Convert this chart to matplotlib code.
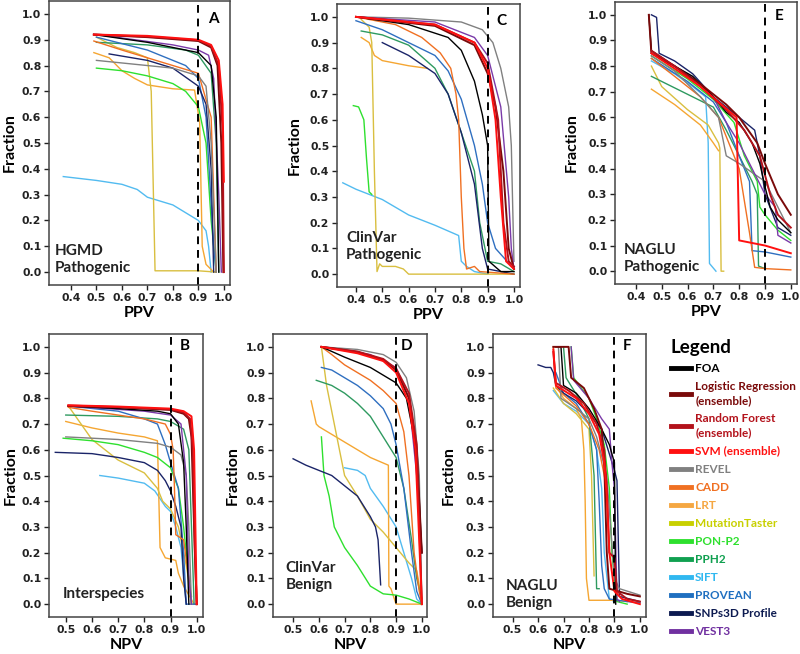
import matplotlib

matplotlib.use("Agg")

import matplotlib.pyplot as plt

W, H = 800, 654

methods = ["FOA", "Logistic Regression\n(ensemble)", "Random Forest\n(ensemble)",
           "SVM (ensemble)", "REVEL", "CADD", "LRT", "MutationTaster", "PON-P2",
           "PPH2", "SIFT", "PROVEAN", "SNPs3D Profile", "VEST3"]
keys = ["FOA", "LR", "RF", "SVM", "REVEL", "CADD", "LRT", "MT", "PON", "PPH2",
        "SIFT", "PROVEAN", "SNPS3D", "VEST3"]
# line colours in the panels
colors = ["#000000", "#7a0a0a", "#b3121b", "#ff1010", "#808080", "#f07022",
          "#f5a632", "#d9bf40", "#2ee02e", "#2f9a60", "#52bbf0", "#2f6fc0",
          "#1a2468", "#7a3aa8"]
# legend text / swatch colours
legend_colors = ["#000000", "#7a0a0a", "#b3121b", "#ff1010", "#808080", "#f07022",
                 "#f5a742", "#c8d000", "#2ee02e", "#10a050", "#30b8f0", "#1f6fc0",
                 "#0c1a50", "#7030a0"]

# (x, y) per method
hgmd_path = {
    "FOA": ([0.49, 0.7, 0.85, 0.9, 0.95, 0.97, 0.98], [0.92, 0.89, 0.86, 0.85, 0.8, 0.6, 0.0]),
    "LR": ([0.49, 0.7, 0.9, 0.95, 0.975, 0.99, 0.998], [0.92, 0.91, 0.895, 0.87, 0.8, 0.5, 0.0]),
    "RF": ([0.49, 0.7, 0.9, 0.95, 0.98, 0.995, 1.0], [0.92, 0.912, 0.898, 0.875, 0.8, 0.55, 0.0]),
    "SVM": ([0.49, 0.7, 0.9, 0.95, 0.98, 0.995, 1.0], [0.92, 0.915, 0.9, 0.88, 0.82, 0.65, 0.35]),
    "REVEL": ([0.5, 0.6, 0.8, 0.9, 0.93, 0.95, 0.97], [0.82, 0.81, 0.79, 0.76, 0.72, 0.5, 0.0]),
    "CADD": ([0.49, 0.6, 0.7, 0.8, 0.9, 0.95, 0.97], [0.895, 0.86, 0.83, 0.8, 0.77, 0.6, 0.0]),
    "LRT": ([0.49, 0.55, 0.6, 0.65, 0.7, 0.8, 0.885, 0.905, 0.915, 0.93, 0.96],
            [0.85, 0.83, 0.78, 0.75, 0.725, 0.71, 0.705, 0.58, 0.1, 0.03, 0.0]),
    "MT": ([0.5, 0.58, 0.65, 0.7, 0.715, 0.73, 0.8, 0.9, 0.97],
           [0.91, 0.87, 0.85, 0.83, 0.7, 0.005, 0.005, 0.005, 0.0]),
    "PON": ([0.5, 0.6, 0.7, 0.8, 0.85, 0.9, 0.93, 0.95, 0.97],
            [0.79, 0.78, 0.76, 0.73, 0.7, 0.64, 0.5, 0.2, 0.0]),
    "PPH2": ([0.5, 0.7, 0.85, 0.9, 0.95, 0.97, 0.98], [0.89, 0.88, 0.86, 0.84, 0.77, 0.5, 0.0]),
    "SIFT": ([0.37, 0.5, 0.6, 0.66, 0.7, 0.8, 0.9, 0.93, 0.94, 0.95],
             [0.37, 0.355, 0.34, 0.32, 0.29, 0.26, 0.2, 0.16, 0.1, 0.0]),
    "PROVEAN": ([0.5, 0.7, 0.85, 0.9, 0.93, 0.96, 0.97], [0.91, 0.86, 0.8, 0.75, 0.6, 0.1, 0.0]),
    "SNPS3D": ([0.55, 0.7, 0.8, 0.9, 0.93, 0.95, 0.96], [0.845, 0.82, 0.79, 0.72, 0.65, 0.4, 0.0]),
    "VEST3": ([0.5, 0.8, 0.9, 0.94, 0.96, 0.98, 0.99], [0.92, 0.88, 0.86, 0.84, 0.75, 0.3, 0.0]),
}

clinvar_path = {
    "FOA": ([0.4, 0.6, 0.75, 0.8, 0.85, 0.88, 0.9, 0.905, 0.95, 1.0],
            [1.0, 0.97, 0.92, 0.87, 0.75, 0.62, 0.5, 0.05, 0.01, 0.01]),
    "LR": ([0.4, 0.7, 0.85, 0.9, 0.93, 0.96, 0.98, 1.0], [1.0, 0.965, 0.89, 0.78, 0.65, 0.4, 0.1, 0.02]),
    "RF": ([0.4, 0.7, 0.85, 0.9, 0.94, 0.96, 0.98, 1.0], [1.0, 0.97, 0.9, 0.82, 0.6, 0.2, 0.05, 0.03]),
    "SVM": ([0.4, 0.7, 0.85, 0.9, 0.93, 0.95, 0.97, 1.0], [1.0, 0.97, 0.9, 0.8, 0.6, 0.3, 0.05, 0.02]),
    "REVEL": ([0.4, 0.6, 0.8, 0.88, 0.92, 0.95, 0.98, 0.99, 1.0],
              [1.0, 0.995, 0.98, 0.95, 0.9, 0.8, 0.65, 0.5, 0.05]),
    "CADD": ([0.4, 0.55, 0.65, 0.72, 0.76, 0.78, 0.79, 0.8, 0.81, 0.82, 0.85, 0.87, 1.0],
             [1.0, 0.97, 0.92, 0.86, 0.8, 0.7, 0.6, 0.3, 0.1, 0.02, 0.03, 0.01, 0.0]),
    "LRT": ([0.42, 0.45, 0.47, 0.5, 0.6, 0.67], [0.92, 0.9, 0.85, 0.83, 0.81, 0.8]),
    "MT": ([0.42, 0.45, 0.46, 0.47, 0.48, 0.49, 0.5, 0.55, 0.58, 0.6, 1.0],
           [0.99, 0.96, 0.9, 0.4, 0.01, 0.04, 0.03, 0.03, 0.02, 0.0, 0.0]),
    "PON": ([0.39, 0.41, 0.43, 0.44, 0.45, 0.46], [0.655, 0.65, 0.6, 0.45, 0.32, 0.31]),
    "PPH2": ([0.42, 0.5, 0.6, 0.7, 0.75, 0.8, 0.85, 0.87, 0.9, 0.95, 1.0],
             [0.945, 0.93, 0.89, 0.8, 0.7, 0.55, 0.4, 0.2, 0.05, 0.04, 0.01]),
    "SIFT": ([0.35, 0.4, 0.5, 0.6, 0.7, 0.79, 0.8, 0.82, 0.85, 0.9],
             [0.355, 0.33, 0.29, 0.23, 0.19, 0.15, 0.05, 0.03, 0.01, 0.0]),
    "PROVEAN": ([0.4, 0.5, 0.6, 0.7, 0.75, 0.8, 0.85, 0.88, 0.9, 0.93, 1.0],
                [0.985, 0.95, 0.9, 0.85, 0.79, 0.68, 0.5, 0.35, 0.2, 0.1, 0.02]),
    "SNPS3D": ([0.5, 0.6, 0.7, 0.75, 0.8, 0.85, 0.88, 0.9, 1.0],
               [0.9, 0.85, 0.78, 0.7, 0.55, 0.35, 0.1, 0.02, 0.0]),
    "VEST3": ([0.4, 0.7, 0.85, 0.9, 0.95, 0.98, 0.99, 1.0], [1.0, 0.98, 0.92, 0.85, 0.65, 0.3, 0.1, 0.02]),
}

naglu_path = {
    "FOA": ([0.45, 0.46, 0.55, 0.62, 0.7, 0.75, 0.8, 0.85, 0.88, 0.9, 0.92, 0.95, 1.0],
            [1.0, 0.86, 0.8, 0.76, 0.68, 0.62, 0.58, 0.5, 0.42, 0.33, 0.25, 0.2, 0.15]),
    "LR": ([0.45, 0.46, 0.55, 0.65, 0.75, 0.8, 0.87, 0.9, 0.95, 1.0],
           [1.0, 0.85, 0.8, 0.73, 0.65, 0.6, 0.5, 0.42, 0.3, 0.22]),
    "RF": ([0.46, 0.55, 0.65, 0.75, 0.82, 0.88, 0.92, 0.95, 1.0],
           [0.86, 0.8, 0.72, 0.63, 0.55, 0.45, 0.3, 0.22, 0.17]),
    "SVM": ([0.46, 0.55, 0.65, 0.72, 0.79, 0.8, 0.9, 1.0], [0.85, 0.79, 0.72, 0.66, 0.6, 0.12, 0.1, 0.07]),
    "REVEL": ([0.46, 0.55, 0.65, 0.72, 0.75, 0.8, 0.9, 0.95, 1.0],
              [0.84, 0.78, 0.68, 0.6, 0.45, 0.42, 0.35, 0.25, 0.15]),
    "CADD": ([0.46, 0.55, 0.65, 0.72, 0.8, 0.84, 0.86, 0.9, 1.0],
             [0.83, 0.76, 0.68, 0.6, 0.4, 0.15, 0.015, 0.01, 0.005]),
    "LRT": ([0.46, 0.55, 0.65, 0.7, 0.72], [0.71, 0.65, 0.57, 0.5, 0.47]),
    "MT": ([0.46, 0.5, 0.6, 0.68, 0.72, 0.725, 0.73, 0.74], [0.8, 0.72, 0.63, 0.57, 0.5, 0.48, 0.0, 0.0]),
    "PON": ([0.46, 0.6, 0.7, 0.78, 0.82, 0.87, 0.88, 0.9, 0.95, 1.0],
            [0.84, 0.75, 0.67, 0.58, 0.45, 0.35, 0.25, 0.22, 0.16, 0.12]),
    "PPH2": ([0.46, 0.6, 0.7, 0.75, 0.8, 0.85, 0.87, 0.875, 0.9],
             [0.76, 0.69, 0.64, 0.55, 0.45, 0.35, 0.3, 0.02, 0.01]),
    "SIFT": ([0.46, 0.55, 0.62, 0.67, 0.68, 0.685, 0.71], [0.82, 0.77, 0.72, 0.68, 0.5, 0.03, 0.0]),
    "PROVEAN": ([0.46, 0.6, 0.7, 0.75, 0.8, 0.84, 0.85, 0.9, 1.0],
                [0.83, 0.74, 0.66, 0.58, 0.45, 0.35, 0.08, 0.075, 0.055]),
    "SNPS3D": ([0.46, 0.48, 0.49, 0.55, 0.62, 0.7, 0.8, 0.86, 0.88, 0.9, 0.95, 1.0],
               [1.0, 0.99, 0.85, 0.82, 0.77, 0.68, 0.6, 0.55, 0.45, 0.3, 0.17, 0.14]),
    "VEST3": ([0.46, 0.6, 0.7, 0.75, 0.8, 0.85, 0.9, 0.94, 0.95, 1.0],
              [0.85, 0.77, 0.68, 0.58, 0.5, 0.4, 0.3, 0.25, 0.14, 0.11]),
}

interspecies = {
    "FOA": ([0.51, 0.7, 0.85, 0.9, 0.93, 0.95, 0.96, 0.97], [0.77, 0.76, 0.75, 0.74, 0.7, 0.55, 0.3, 0.0]),
    "LR": ([0.51, 0.7, 0.9, 0.95, 0.97, 0.98, 0.99, 1.0], [0.77, 0.765, 0.755, 0.74, 0.72, 0.65, 0.3, 0.0]),
    "RF": ([0.51, 0.7, 0.9, 0.95, 0.975, 0.985, 0.993, 1.0], [0.772, 0.766, 0.757, 0.745, 0.72, 0.6, 0.2, 0.0]),
    "SVM": ([0.51, 0.7, 0.9, 0.95, 0.98, 0.99, 0.995, 1.0], [0.773, 0.768, 0.76, 0.75, 0.73, 0.6, 0.3, 0.0]),
    "REVEL": ([0.5, 0.7, 0.85, 0.9, 0.94, 0.96, 0.97, 0.98], [0.65, 0.64, 0.625, 0.61, 0.58, 0.5, 0.3, 0.0]),
    "CADD": ([0.51, 0.6, 0.7, 0.8, 0.88, 0.9, 0.91, 0.915, 0.92, 0.95, 0.97, 0.98],
             [0.765, 0.75, 0.735, 0.72, 0.7, 0.66, 0.6, 0.45, 0.27, 0.25, 0.1, 0.0]),
    "LRT": ([0.5, 0.6, 0.7, 0.8, 0.85, 0.86, 0.88, 0.92, 0.93, 0.95, 0.99],
            [0.71, 0.685, 0.665, 0.65, 0.635, 0.22, 0.18, 0.17, 0.12, 0.07, 0.0]),
    "MT": ([0.51, 0.6, 0.7, 0.8, 0.85, 0.87, 0.9, 0.93, 0.96, 0.98],
           [0.77, 0.64, 0.56, 0.51, 0.45, 0.4, 0.37, 0.3, 0.15, 0.03]),
    "PON": ([0.49, 0.6, 0.7, 0.8, 0.85, 0.9, 0.93, 0.95, 0.97, 0.98],
            [0.645, 0.635, 0.62, 0.59, 0.57, 0.53, 0.45, 0.3, 0.1, 0.0]),
    "PPH2": ([0.5, 0.7, 0.85, 0.9, 0.95, 0.97, 0.98, 0.99], [0.735, 0.73, 0.72, 0.71, 0.68, 0.6, 0.3, 0.0]),
    "SIFT": ([0.63, 0.7, 0.8, 0.84, 0.86, 0.88, 0.9, 0.92, 0.94, 0.96],
             [0.5, 0.49, 0.47, 0.44, 0.41, 0.38, 0.36, 0.3, 0.22, 0.0]),
    "PROVEAN": ([0.51, 0.7, 0.8, 0.85, 0.88, 0.9, 0.93, 0.95, 0.96, 1.0],
                [0.77, 0.75, 0.72, 0.7, 0.62, 0.55, 0.45, 0.2, 0.0, 0.0]),
    "SNPS3D": ([0.46, 0.6, 0.7, 0.8, 0.85, 0.88, 0.9, 0.92, 0.94, 0.95, 0.96],
               [0.59, 0.585, 0.57, 0.55, 0.52, 0.48, 0.44, 0.38, 0.3, 0.1, 0.0]),
    "VEST3": ([0.51, 0.8, 0.9, 0.94, 0.96, 0.97, 0.98], [0.77, 0.75, 0.735, 0.7, 0.5, 0.1, 0.0]),
}

clinvar_benign = {
    "FOA": ([0.61, 0.7, 0.8, 0.85, 0.9, 0.94, 0.97, 0.99, 1.0],
            [1.0, 0.96, 0.92, 0.89, 0.86, 0.8, 0.65, 0.4, 0.2]),
    "LR": ([0.61, 0.75, 0.85, 0.9, 0.95, 0.98, 0.995, 1.0], [1.0, 0.98, 0.95, 0.91, 0.8, 0.6, 0.3, 0.2]),
    "RF": ([0.61, 0.75, 0.85, 0.9, 0.95, 0.98, 1.0], [1.0, 0.982, 0.953, 0.915, 0.82, 0.62, 0.0]),
    "SVM": ([0.61, 0.75, 0.85, 0.9, 0.95, 0.975, 1.0], [1.0, 0.975, 0.945, 0.9, 0.78, 0.6, 0.0]),
    "REVEL": ([0.61, 0.75, 0.85, 0.9, 0.94, 0.97, 0.99, 1.0], [1.0, 0.99, 0.97, 0.94, 0.88, 0.75, 0.5, 0.0]),
    "CADD": ([0.61, 0.65, 0.7, 0.8, 0.85, 0.9, 0.93, 0.95, 0.97, 0.99, 1.0],
             [1.0, 0.97, 0.93, 0.87, 0.83, 0.78, 0.67, 0.5, 0.2, 0.05, 0.0]),
    "LRT": ([0.57, 0.59, 0.6, 0.7, 0.8, 0.87, 0.872, 0.88, 0.9, 1.0],
            [0.79, 0.7, 0.69, 0.63, 0.57, 0.54, 0.07, 0.06, 0.0, 0.0]),
    "MT": ([0.61, 0.63, 0.66, 0.68, 0.7, 0.75, 0.8, 0.85, 0.9, 0.95, 0.98, 1.0],
           [1.0, 0.85, 0.7, 0.6, 0.5, 0.42, 0.33, 0.28, 0.22, 0.16, 0.13, 0.02]),
    "PON": ([0.61, 0.62, 0.64, 0.66, 0.7, 0.75, 0.8, 0.85, 0.9, 0.95, 1.0],
            [0.65, 0.5, 0.42, 0.3, 0.22, 0.15, 0.07, 0.04, 0.035, 0.02, 0.0]),
    "PPH2": ([0.59, 0.65, 0.7, 0.75, 0.8, 0.85, 0.9, 0.93, 0.96, 0.98, 1.0],
             [0.87, 0.85, 0.82, 0.78, 0.73, 0.65, 0.57, 0.45, 0.25, 0.1, 0.02]),
    "SIFT": ([0.7, 0.75, 0.78, 0.8, 0.85, 0.9, 0.93, 0.96, 0.98, 1.0],
             [0.53, 0.52, 0.5, 0.45, 0.38, 0.3, 0.2, 0.1, 0.02, 0.0]),
    "PROVEAN": ([0.61, 0.65, 0.7, 0.75, 0.8, 0.85, 0.88, 0.9, 0.93, 0.96, 0.98, 1.0],
                [0.92, 0.91, 0.88, 0.85, 0.81, 0.76, 0.7, 0.62, 0.45, 0.2, 0.05, 0.0]),
    "SNPS3D": ([0.5, 0.55, 0.6, 0.65, 0.7, 0.75, 0.8, 0.82, 0.83, 0.84],
               [0.565, 0.54, 0.52, 0.5, 0.46, 0.42, 0.34, 0.3, 0.25, 0.075]),
    "VEST3": ([0.61, 0.8, 0.9, 0.95, 0.98, 1.0], [1.0, 0.97, 0.92, 0.8, 0.5, 0.2]),
}

naglu_benign = {
    "FOA": ([0.67, 0.69, 0.7, 0.75, 0.8, 0.85, 0.88, 0.9, 0.905], [1.0, 1.0, 0.85, 0.82, 0.76, 0.68, 0.62, 0.55, 0.0]),
    "LR": ([0.66, 0.72, 0.73, 0.78, 0.82, 0.85, 0.86, 0.87, 0.88, 0.95, 1.0],
           [1.0, 1.0, 0.88, 0.84, 0.76, 0.68, 0.55, 0.2, 0.06, 0.04, 0.03]),
    "RF": ([0.66, 0.67, 0.72, 0.78, 0.83, 0.86, 0.87, 0.88, 0.9, 0.91, 0.95, 1.0],
           [0.98, 0.86, 0.83, 0.78, 0.7, 0.6, 0.45, 0.2, 0.18, 0.05, 0.02, 0.01]),
    "SVM": ([0.66, 0.67, 0.75, 0.8, 0.84, 0.86, 0.87, 0.88, 0.9, 0.93, 1.0],
            [0.99, 0.85, 0.8, 0.74, 0.66, 0.55, 0.42, 0.2, 0.05, 0.02, 0.0]),
    "REVEL": ([0.68, 0.69, 0.75, 0.8, 0.83, 0.87, 0.9, 0.92, 1.0],
              [1.0, 0.8, 0.76, 0.72, 0.65, 0.5, 0.1, 0.06, 0.035]),
    "CADD": ([0.66, 0.67, 0.75, 0.8, 0.84, 0.86, 0.87], [1.0, 0.84, 0.77, 0.7, 0.6, 0.5, 0.45]),
    "LRT": ([0.67, 0.7, 0.75, 0.77, 0.78, 0.785, 0.79, 0.8, 0.9, 0.95],
            [0.85, 0.8, 0.76, 0.72, 0.6, 0.4, 0.1, 0.015, 0.015, 0.01]),
    "MT": ([0.66, 0.7, 0.75, 0.8, 0.81, 0.82], [0.84, 0.78, 0.74, 0.68, 0.5, 0.11]),
    "PON": ([0.73, 0.74, 0.8, 0.83, 0.86, 0.88, 0.89, 0.9, 0.91, 0.95],
            [1.0, 0.88, 0.8, 0.72, 0.62, 0.45, 0.2, 0.1, 0.01, 0.0]),
    "PPH2": ([0.7, 0.71, 0.76, 0.8, 0.82, 0.83, 0.84], [1.0, 0.88, 0.8, 0.72, 0.5, 0.06, 0.06]),
    "SIFT": ([0.66, 0.7, 0.75, 0.8, 0.83, 0.85, 0.86, 0.88, 0.9], [0.83, 0.78, 0.75, 0.7, 0.6, 0.45, 0.2, 0.02, 0.01]),
    "PROVEAN": ([0.67, 0.7, 0.75, 0.8, 0.83, 0.84, 0.85, 0.86, 0.88, 0.95, 1.0],
                [0.9, 0.82, 0.78, 0.7, 0.6, 0.4, 0.15, 0.06, 0.02, 0.01, 0.005]),
    "SNPS3D": ([0.6, 0.63, 0.65, 0.66, 0.67, 0.7, 0.75, 0.8, 0.85, 0.9, 0.91, 0.92, 1.0],
               [0.93, 0.92, 0.92, 0.9, 0.85, 0.82, 0.79, 0.74, 0.68, 0.52, 0.48, 0.03, 0.01]),
    "VEST3": ([0.73, 0.74, 0.8, 0.85, 0.88, 0.89, 0.9, 0.91, 0.92],
              [1.0, 0.87, 0.8, 0.72, 0.68, 0.55, 0.45, 0.02, 0.01]),
}

# panel: data, pixel box (l, t, r, b), xlim, xticks, x label, name, letter, name pos, letter pos, ylabel x
panels = [
    (hgmd_path, (49, 1, 230, 285), (0.314, 1.024), [0.4, 0.5, 0.6, 0.7, 0.8, 0.9, 1.0], "PPV",
     "HGMD\nPathogenic", "A", (0.03, 0.035), (0.906, 0.935), -0.18),
    (clinvar_path, (337, 4, 520, 287), (0.328, 1.023), [0.4, 0.5, 0.6, 0.7, 0.8, 0.9, 1.0], "PPV",
     "ClinVar\nPathogenic", "C", (0.05, 0.09), (0.9, 0.94), -0.19),
    (naglu_path, (615, 2, 797, 284), (0.319, 1.024), [0.4, 0.5, 0.6, 0.7, 0.8, 0.9, 1.0], "PPV",
     "NAGLU\nPathogenic", "E", (0.05, 0.035), (0.9, 0.95), -0.2),
    (interspecies, (49, 334, 203, 617), (0.436, 1.024), [0.5, 0.6, 0.7, 0.8, 0.9, 1.0], "NPV",
     "Interspecies", "B", (0.09, 0.057), (0.883, 0.958), -0.205),
    (clinvar_benign, (273, 334, 427, 617), (0.422, 1.02), [0.5, 0.6, 0.7, 0.8, 0.9, 1.0], "NPV",
     "ClinVar\nBenign", "D", (0.08, 0.088), (0.868, 0.958), -0.215),
    (naglu_benign, (493, 334, 646, 617), (0.423, 1.024), [0.5, 0.6, 0.7, 0.8, 0.9, 1.0], "NPV",
     "NAGLU\nBenign", "F", (0.085, 0.025), (0.874, 0.958), -0.245),
]

draw_order = ["SIFT", "LRT", "MT", "PON", "PPH2", "PROVEAN", "SNPS3D", "CADD",
              "REVEL", "VEST3", "FOA", "LR", "RF", "SVM"]
yticks = [0.0, 0.1, 0.2, 0.3, 0.4, 0.5, 0.6, 0.7, 0.8, 0.9, 1.0]

TICK_FONT = "DejaVu Sans"
TEXT_FONT = "Lato"

fig = plt.figure(figsize=(W / 100, H / 100), dpi=100)
handles = {}

for data, box, xlim, xticks, xlab, name, letter, name_pos, letter_pos, ylab_x in panels:
    l, t, r, b = box
    ax = fig.add_axes([l / W, 1 - b / H, (r - l) / W, (b - t) / H])
    for k in draw_order:
        i = keys.index(k)
        xs, ys = data[k]
        lw = 1.4 if k in ("LR", "RF", "SVM") else 1.0
        line, = ax.plot(xs, ys, color=colors[i], lw=lw)
        handles.setdefault(k, line)
    ax.axvline(0.9, color="black", lw=1.4, ls=(0, (4, 3)))
    ax.set_xlim(*xlim)
    ax.set_ylim(-0.05, 1.05)
    ax.set_xticks(xticks)
    ax.set_xticklabels([f"{v:.1f}" for v in xticks])
    ax.set_yticks(yticks)
    ax.set_yticklabels([f"{v:.1f}" for v in yticks])
    ax.tick_params(length=3.5, width=1, pad=2, labelsize=7.8, colors="#222222")
    for lab in ax.get_xticklabels() + ax.get_yticklabels():
        lab.set_fontfamily(TICK_FONT)
        lab.set_fontweight("bold")
    for s in ax.spines.values():
        s.set_linewidth(1.1)
        s.set_color("#444444")
    ax.set_xlabel(xlab, fontsize=11.5, fontweight="bold", family=TEXT_FONT)
    ax.set_ylabel("Fraction", fontsize=11.5, fontweight="bold", family=TEXT_FONT)
    ax.xaxis.set_label_coords(0.5, -0.075)
    ax.yaxis.set_label_coords(ylab_x, 0.5)
    ax.text(name_pos[0], name_pos[1], name, transform=ax.transAxes, ha="left", va="bottom",
            fontsize=11, fontweight="bold", family=TEXT_FONT, color="#222222", linespacing=1.25)
    ax.text(letter_pos[0], letter_pos[1], letter, transform=ax.transAxes, ha="center",
            va="center", fontsize=11, fontweight="bold", family=TEXT_FONT)

leg = fig.legend([handles[k] for k in keys], methods, loc="upper left",
                 bbox_to_anchor=(671 / W, 1 - 339 / H), frameon=False, title="Legend",
                 alignment="left", handlelength=1.7, handletextpad=0.35, labelspacing=0.6,
                 borderaxespad=0, borderpad=0, labelcolor=legend_colors,
                 prop={"family": TEXT_FONT, "weight": "bold", "size": 8.5},
                 title_fontproperties={"family": TEXT_FONT, "weight": "bold", "size": 13.5})
for h, c in zip(leg.legend_handles, legend_colors):
    h.set_linewidth(3.5)
    h.set_color(c)
for txt in leg.get_texts():
    txt.set_linespacing(1.35)

fig.savefig("out.png", dpi=100)
